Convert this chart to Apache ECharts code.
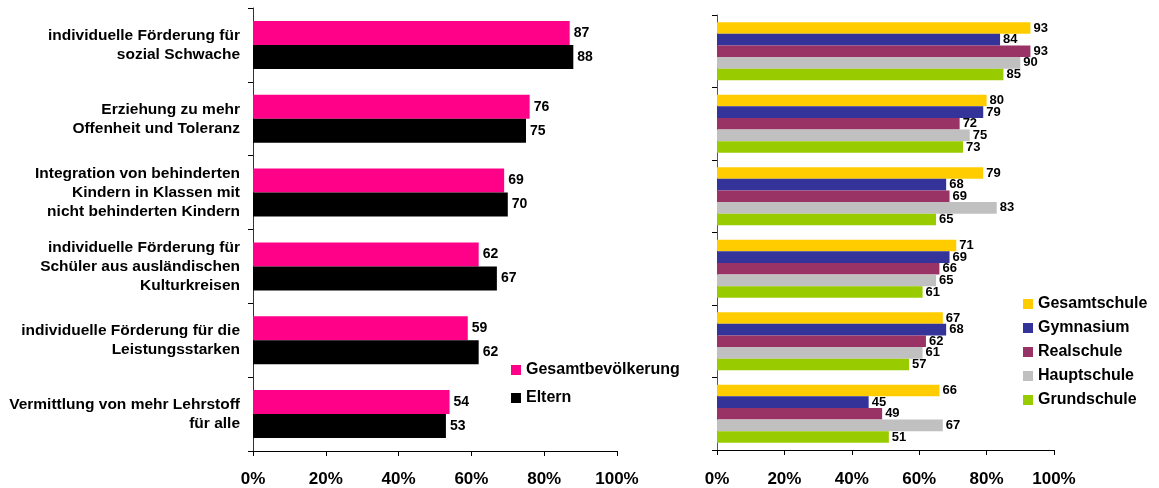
<!DOCTYPE html>
<html>
<head>
<meta charset="utf-8">
<script src="https://cdn.jsdelivr.net/npm/echarts@6/dist/echarts.min.js"></script>
<style>
  html, body { margin: 0; padding: 0; background: #fff; }
  #container { width: 1159px; height: 488px; }
</style>
</head>
<body>
<div id="container"></div>
<script>
// Kategorien (von oben nach unten)
var categories = [
    'individuelle Förderung für\nsozial Schwache',
    'Erziehung zu mehr\nOffenheit und Toleranz',
    'Integration von behinderten\nKindern in Klassen mit\nnicht behinderten Kindern',
    'individuelle Förderung für\nSchüler aus ausländischen\nKulturkreisen',
    'individuelle Förderung für die\nLeistungsstarken',
    'Vermittlung von mehr Lehrstoff\nfür alle'
];

// linke Grafik
var gesamtbevoelkerung = [87, 76, 69, 62, 59, 54];
var eltern = [88, 75, 70, 67, 62, 53];

// rechte Grafik, nach Schulform
var gesamtschule = [93, 80, 79, 71, 67, 66];
var gymnasium = [84, 79, 68, 69, 68, 45];
var realschule = [93, 72, 69, 66, 62, 49];
var hauptschule = [90, 75, 83, 65, 61, 67];
var grundschule = [85, 73, 65, 61, 57, 51];

var xTicks = [0, 20, 40, 60, 80, 100];

var font = '"Liberation Sans", Arial, sans-serif';

var dom = document.getElementById('container');
var myChart = echarts.init(dom);

function valueAxis(gridIndex, margin) {
    return {
        type: 'value',
        gridIndex: gridIndex,
        min: xTicks[0],
        max: xTicks[xTicks.length - 1],
        interval: 20,
        axisLine: { show: true, lineStyle: { color: '#000', width: 1 } },
        axisTick: { show: true, length: 5, lineStyle: { color: '#000' } },
        splitLine: { show: false },
        axisLabel: {
            margin: margin,
            color: '#000',
            fontFamily: font,
            fontWeight: 'bold',
            fontSize: 17,
            formatter: '{value}%'
        }
    };
}

function catAxis(gridIndex, showLabels, lineColor) {
    return {
        type: 'category',
        gridIndex: gridIndex,
        data: categories,
        inverse: true,
        axisLine: { show: true, lineStyle: { color: lineColor, width: 1 } },
        axisTick: { show: true, length: 5, lineStyle: { color: '#000' } },
        axisLabel: {
            show: showLabels,
            margin: 13,
            color: '#000',
            fontFamily: font,
            fontWeight: 'bold',
            fontSize: 15.5,
            lineHeight: 19,
            align: 'right'
        }
    };
}

function barSeries(name, data, color, idx, width, labelSize, labelDist) {
    return {
        name: name,
        type: 'bar',
        xAxisIndex: idx,
        yAxisIndex: idx,
        data: data,
        barWidth: width,
        barGap: '0%',
        itemStyle: { color: color },
        label: {
            show: true,
            position: 'right',
            distance: labelDist,
            color: '#000',
            fontFamily: font,
            fontWeight: 'bold',
            fontSize: labelSize
        },
        animation: false
    };
}

var option = {
    backgroundColor: '#fff',
    textStyle: { fontFamily: font },
    grid: [
        { left: 253, top: 8, width: 364, height: 444 },
        { left: 717, top: 15, width: 337, height: 435 }
    ],
    legend: [
        {
            data: ['Gesamtbevölkerung', 'Eltern'],
            orient: 'vertical',
            left: 506,
            top: 357,
            icon: 'rect',
            itemWidth: 10,
            itemHeight: 10,
            itemGap: 12,
            textStyle: { color: '#000', fontWeight: 'bold', fontSize: 16, fontFamily: font }
        },
        {
            data: ['Gesamtschule', 'Gymnasium', 'Realschule', 'Hauptschule', 'Grundschule'],
            orient: 'vertical',
            left: 1018,
            top: 291,
            icon: 'rect',
            itemWidth: 10,
            itemHeight: 10,
            itemGap: 8,
            textStyle: { color: '#000', fontWeight: 'bold', fontSize: 16, fontFamily: font }
        }
    ],
    xAxis: [valueAxis(0, 20), valueAxis(1, 21)],
    yAxis: [catAxis(0, true, '#333'), catAxis(1, false, '#555')],
    series: [
        barSeries('Gesamtbevölkerung', gesamtbevoelkerung, '#FF0088', 0, 24, 14, 4),
        barSeries('Eltern', eltern, '#000000', 0, 24, 14, 4),
        barSeries('Gesamtschule', gesamtschule, '#FFCC00', 1, 11.6, 13, 3),
        barSeries('Gymnasium', gymnasium, '#333399', 1, 11.6, 13, 3),
        barSeries('Realschule', realschule, '#993366', 1, 11.6, 13, 3),
        barSeries('Hauptschule', hauptschule, '#C0C0C0', 1, 11.6, 13, 3),
        barSeries('Grundschule', grundschule, '#99CC00', 1, 11.6, 13, 3)
    ]
};

myChart.setOption(option);
</script>
</body>
</html>
